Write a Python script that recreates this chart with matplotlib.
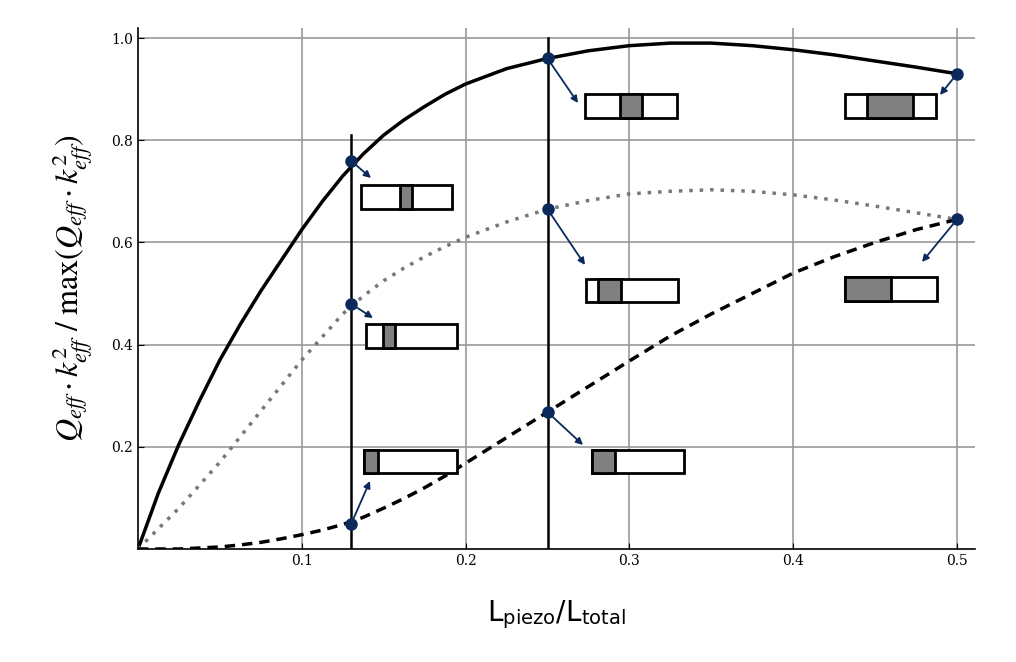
import matplotlib
matplotlib.use("Agg")
import matplotlib.pyplot as plt
from matplotlib.patches import Rectangle

plt.rcParams["mathtext.fontset"] = "custom"
plt.rcParams["mathtext.it"] = "STIXGeneral:italic"
plt.rcParams["mathtext.rm"] = "STIXGeneral"
plt.rcParams["mathtext.sf"] = "DejaVu Sans"

x_vals = [0, 0.0125, 0.025, 0.0375, 0.05, 0.0625, 0.075, 0.0875, 0.1, 0.1125, 0.125,
          0.1375, 0.15, 0.1625, 0.175, 0.1875, 0.2, 0.225, 0.25,
          0.275, 0.3, 0.325, 0.35, 0.375, 0.4, 0.425, 0.45, 0.475, 0.5]
solid = [0, 0.11, 0.205, 0.29, 0.37, 0.44, 0.505, 0.565, 0.625, 0.68, 0.73,
         0.773, 0.81, 0.84, 0.866, 0.89, 0.91, 0.94, 0.96,
         0.975, 0.985, 0.99, 0.99, 0.985, 0.977, 0.967, 0.955, 0.943, 0.93]
dotted = [0, 0.04, 0.08, 0.125, 0.17, 0.22, 0.27, 0.32, 0.37, 0.415, 0.46,
          0.495, 0.525, 0.55, 0.572, 0.592, 0.61, 0.64, 0.665,
          0.682, 0.695, 0.70, 0.703, 0.70, 0.693, 0.683, 0.671, 0.658, 0.645]
dashed = [0, 0.0, 0.0, 0.002, 0.004, 0.008, 0.013, 0.02, 0.028, 0.037, 0.048,
          0.062, 0.08, 0.099, 0.12, 0.143, 0.168, 0.218, 0.268,
          0.318, 0.368, 0.417, 0.46, 0.5, 0.54, 0.572, 0.6, 0.625, 0.645]
xticks = [0.1, 0.2, 0.3, 0.4, 0.5]
yticks = [0.2, 0.4, 0.6, 0.8, 1.0]

W, H = 1016, 662
fig = plt.figure(figsize=(W/100, H/100), dpi=100)
L, R, B, T = 138, 975, 549, 28
ax = fig.add_axes([L/W, (H-B)/H, (R-L)/W, (B-T)/H])
x0, x1 = 0, (R-138)/1638
y0, y1 = 0, (549-T)/511
ax.set_xlim(x0, x1); ax.set_ylim(y0, y1)

def d(px, py):
    return (px-138)/1638, (549-py)/511

ax.grid(True, color="#999999", lw=1.2)
ax.set_axisbelow(True)
for s in ["top", "right"]:
    ax.spines[s].set_visible(False)
ax.spines["left"].set_linewidth(1.2); ax.spines["bottom"].set_linewidth(1.2)
ax.set_xticks(xticks); ax.set_yticks(yticks)
ax.set_xticklabels([f"{v:.1f}" for v in xticks], family="DejaVu Serif", fontsize=10)
ax.set_yticklabels([f"{v:.1f}" for v in yticks], family="DejaVu Serif", fontsize=10)
ax.tick_params(direction="in", length=4)

ax.plot(x_vals, solid, color="black", lw=2.5)
ax.plot(x_vals, dotted, color="#777777", lw=2.5, ls=(0, (1, 2)))
ax.plot(x_vals, dashed, color="black", lw=2.5, ls=(0, (3, 2)))

ax.plot([0.13, 0.13], [0, 0.81], color="black", lw=1.8)
ax.plot([0.25, 0.25], [0, 1.0], color="black", lw=1.8)

navy = "#0b2a5c"
diagrams = [(361, 185, 452, 209, 400, 412), (366, 324, 457, 348, 383, 395),
            (364, 450, 457, 473, 364, 378), (585, 94, 677, 118, 620, 642),
            (586, 279, 678, 302, 598, 621), (592, 450, 684, 473, 592, 615),
            (845, 94, 936, 118, 867, 913), (845, 277, 937, 301, 845, 891)]
for l, t, r, b, gl, gr in diagrams:
    (xl, yt), (xr, yb) = d(l, t), d(r, b)
    ax.add_patch(Rectangle((xl, yb), xr-xl, yt-yb, fc="white", ec="black", lw=2, zorder=5))
    g1, _ = d(gl, t); g2, _ = d(gr, t)
    ax.add_patch(Rectangle((g1, yb), g2-g1, yt-yb, fc="#808080", ec="black", lw=2, zorder=6))

dots = [(0.13, 0.76), (0.13, 0.48), (0.13, 0.048), (0.25, 0.96), (0.25, 0.665),
        (0.25, 0.268), (0.5, 0.93), (0.5, 0.645)]
targets = [(371, 178), (373, 318), (370, 481), (578, 103), (585, 265),
           (583, 445), (940, 95), (922, 262)]
for (dx, dy), (tx, ty) in zip(dots, targets):
    ax.annotate("", xy=d(tx, ty), xytext=(dx, dy),
                arrowprops=dict(arrowstyle="-|>", color=navy, lw=1.3,
                                mutation_scale=10, shrinkA=0, shrinkB=0), zorder=7)
    ax.plot(dx, dy, "o", color=navy, ms=8, zorder=8, clip_on=False)

ax.set_ylabel(r"$Q_{eff}\cdot k_{eff}^{2}\ /\ \mathrm{max}(Q_{eff}\cdot k_{eff}^{2})$",
              fontsize=23, labelpad=12)
ax.set_xlabel(r"L$_{\mathsf{piezo}}$/L$_{\mathsf{total}}$", fontsize=20, labelpad=22)
fig.savefig("out.png", dpi=100)
